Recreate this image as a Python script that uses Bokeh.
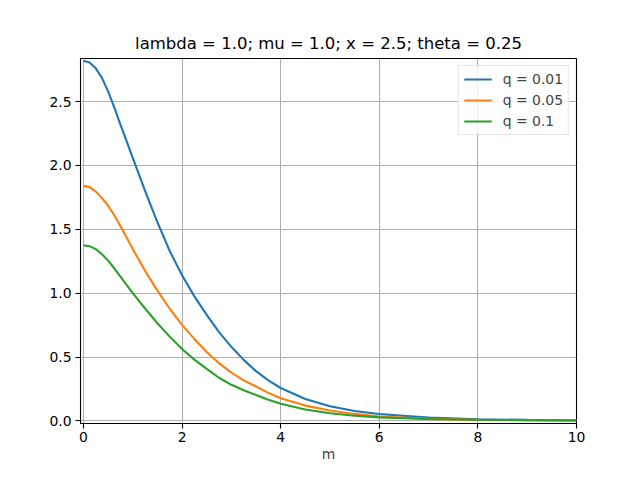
from bokeh.plotting import figure
from bokeh.models import Range1d, FixedTicker, PrintfTickFormatter, Legend, LegendItem
from bokeh.embed import file_html
from bokeh.resources import INLINE

title = "lambda = 1.0; mu = 1.0; x = 2.5; theta = 0.25"
x_label = "m"

m = [0.0, 0.125, 0.25, 0.375, 0.5, 0.625, 0.75, 0.875, 1.0, 1.25, 1.5, 1.75, 2.0,
     2.25, 2.5, 2.75, 3.0, 3.25, 3.5, 3.75, 4.0, 4.5, 5.0, 5.5, 6.0, 7.0, 8.0, 9.0, 10.0]

q_001 = [2.82, 2.805, 2.76, 2.685, 2.58, 2.455, 2.32, 2.19, 2.06, 1.80, 1.555, 1.33, 1.14,
         0.975, 0.83, 0.695, 0.58, 0.478, 0.39, 0.318, 0.258, 0.172, 0.115, 0.078, 0.054,
         0.026, 0.013, 0.008, 0.005]
q_005 = [1.84, 1.83, 1.795, 1.745, 1.685, 1.61, 1.525, 1.435, 1.345, 1.175, 1.02, 0.878, 0.752,
         0.642, 0.54, 0.452, 0.378, 0.318, 0.27, 0.22, 0.177, 0.12, 0.082, 0.055, 0.035,
         0.016, 0.009, 0.006, 0.004]
q_01 = [1.375, 1.368, 1.345, 1.305, 1.255, 1.195, 1.13, 1.065, 1.0, 0.88, 0.765, 0.66, 0.563,
        0.48, 0.408, 0.338, 0.283, 0.24, 0.203, 0.166, 0.134, 0.09, 0.06, 0.041, 0.028,
        0.015, 0.009, 0.006, 0.004]

series = [("q = 0.01", q_001, "#1f77b4"),
          ("q = 0.05", q_005, "#ff7f0e"),
          ("q = 0.1", q_01, "#2ca02c")]

x_ticks = [0, 2, 4, 6, 8, 10]
y_ticks = [0.0, 0.5, 1.0, 1.5, 2.0, 2.5]

p = figure(width=624, height=464, output_backend="svg", toolbar_location=None,
           x_range=Range1d(-0.06, 10.0), y_range=Range1d(-0.02, 2.837),
           min_border_left=80, min_border_right=48, min_border_top=58, min_border_bottom=37)

p.title.text = title
p.title.align = "center"
p.title.text_font = "DejaVu Sans"
p.title.text_font_size = "16.5px"
p.title.text_font_style = "normal"
p.title.text_color = "black"
p.title.standoff = 11

p.outline_line_color = "black"
p.outline_line_width = 1.1
p.background_fill_color = "white"
p.border_fill_color = "white"

for ax in (p.xaxis, p.yaxis):
    ax.axis_line_color = None
    ax.major_tick_line_color = "black"
    ax.major_tick_line_width = 1.1
    ax.major_tick_out = 5
    ax.major_tick_in = 0
    ax.minor_tick_line_color = None
    ax.major_label_text_font = "DejaVu Sans"
    ax.major_label_text_font_size = "13.9px"
    ax.major_label_text_color = "black"

p.xaxis.ticker = FixedTicker(ticks=x_ticks)
p.yaxis.ticker = FixedTicker(ticks=y_ticks)
p.yaxis.formatter = PrintfTickFormatter(format="%.1f")
p.xaxis.major_label_standoff = 3
p.yaxis.major_label_standoff = 4
p.xaxis.axis_label = x_label
p.xaxis.axis_label_text_font = "DejaVu Sans"
p.xaxis.axis_label_text_font_size = "13.9px"
p.xaxis.axis_label_text_font_style = "normal"
p.xaxis.axis_label_standoff = 1

p.grid.grid_line_color = "#b0b0b0"
p.grid.grid_line_width = 1.1

items = []
for label, ys, color in series:
    r = p.line(m, ys, line_color=color, line_width=2.1)
    items.append(LegendItem(label=label, renderers=[r]))

legend = Legend(items=items, location="top_right")
legend.label_text_font = "DejaVu Sans"
legend.label_text_font_size = "13.9px"
legend.glyph_width = 28
legend.glyph_height = 14
legend.label_standoff = 11
legend.spacing = 5
legend.padding = 5
legend.margin = 7
legend.border_line_color = "#cccccc"
legend.border_line_width = 1
legend.background_fill_alpha = 0.8
p.add_layout(legend)

open("out.html", "w").write(file_html(p, INLINE))
